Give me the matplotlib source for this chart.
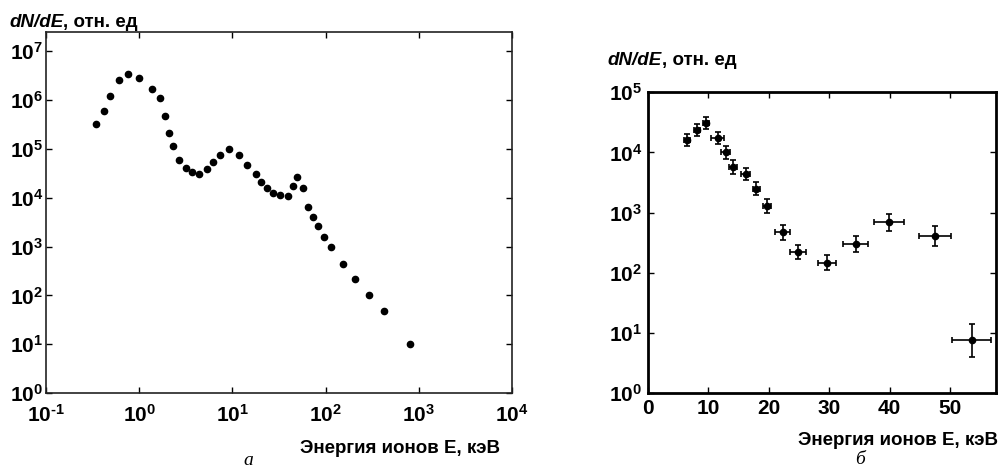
import matplotlib
matplotlib.use("Agg")
import matplotlib.pyplot as plt
import numpy as np
from matplotlib.ticker import FixedLocator, FuncFormatter, NullLocator

plt.rcParams["font.family"] = ["Liberation Sans", "DejaVu Sans"]
plt.rcParams["font.weight"] = "bold"
plt.rcParams["mathtext.fontset"] = "custom"
plt.rcParams["mathtext.rm"] = "Liberation Sans:bold"
plt.rcParams["mathtext.bf"] = "Liberation Sans:bold"
plt.rcParams["mathtext.it"] = "Liberation Sans:bold:italic"

# panel a: full spectrum, log-log
energy_a = [0.34, 0.42, 0.49, 0.61, 0.76, 1.0, 1.36, 1.67, 1.89, 2.1, 2.32,
            2.67, 3.15, 3.69, 4.39, 5.34, 6.23, 7.3, 9.3, 11.7, 14.3, 18.0,
            20.3, 23.3, 27.5, 32.4, 39.2, 44.4, 49.3, 57.7, 65.2, 72.6, 82.8,
            95.4, 113, 154, 208, 292, 427, 805]
dnde_a = [3.2e5, 6.0e5, 1.22e6, 2.6e6, 3.45e6, 2.8e6, 1.72e6, 1.12e6, 4.7e5,
          2.1e5, 1.12e5, 6.0e4, 4.0e4, 3.4e4, 3.1e4, 3.8e4, 5.4e4, 7.4e4,
          9.8e4, 7.6e4, 4.6e4, 3.1e4, 2.1e4, 1.58e4, 1.23e4, 1.14e4, 1.1e4,
          1.73e4, 2.6e4, 1.58e4, 6.6e3, 4.1e3, 2.6e3, 1.6e3, 9.7e2, 4.3e2,
          2.2e2, 1.0e2, 49, 10]

# panel б: low-energy part with error bars
energy_b = [6.5, 8.1, 9.7, 11.6, 12.9, 14.1, 16.2, 17.95, 19.7, 22.3, 24.9,
            29.6, 34.4, 39.9, 47.5, 53.6]
dnde_b = [1.58e4, 2.37e4, 3.05e4, 1.74e4, 1.0e4, 5.7e3, 4.4e3, 2.5e3, 1.28e3,
          4.7e2, 2.2e2, 1.47e2, 3.0e2, 6.9e2, 4.1e2, 7.5]
xerr_b = [0.5, 0.5, 0.5, 1.1, 0.7, 0.6, 0.7, 0.6, 0.7, 1.27, 1.3, 1.5, 2.1,
          2.5, 2.6, 3.25]
yerr_dex = [0.1, 0.1, 0.1, 0.1, 0.11, 0.11, 0.1, 0.11, 0.11, 0.12, 0.12,
            0.12, 0.13, 0.14, 0.17, 0.28]

fig = plt.figure(figsize=(10.01, 4.73), dpi=100)

ax1 = fig.add_axes([0.046, 0.169, 0.4655, 0.763])
ax1.set_xscale("log")
ax1.set_yscale("log")
ax1.plot(energy_a, dnde_a, "o", color="black", markersize=4.5)
ax1.set_xlim(1e-1, 1e4)
ax1.set_ylim(1, 10 ** 7.39)
ax1.xaxis.set_major_locator(FixedLocator([10.0 ** k for k in range(-1, 5)]))
ax1.yaxis.set_major_locator(FixedLocator([10.0 ** k for k in range(0, 8)]))
ax1.xaxis.set_minor_locator(NullLocator())
ax1.yaxis.set_minor_locator(NullLocator())
pow_fmt = FuncFormatter(
    lambda v, p: r"$\mathbf{10^{%s}}$" % str(round(np.log10(v))).replace("-", r"\text{-}"))
ax1.xaxis.set_major_formatter(pow_fmt)
ax1.yaxis.set_major_formatter(pow_fmt)
ax1.tick_params(which="both", direction="in", top=True, right=True,
                length=4, width=1, labelsize=15)
ax1.tick_params(axis="x", pad=8)
ax1.tick_params(axis="y", pad=2)
for sp in ax1.spines.values():
    sp.set_linewidth(1.2)
    sp.set_color("#222222")

ax2 = fig.add_axes([0.647, 0.169, 0.348, 0.636])
ax2.set_yscale("log")
yv = np.array(dnde_b)
d = np.array(yerr_dex)
ax2.errorbar(energy_b, dnde_b, xerr=xerr_b,
             yerr=[yv - yv * 10 ** -d, yv * 10 ** d - yv],
             fmt="o", color="black", markersize=4.5, elinewidth=1.2,
             capsize=2, capthick=1.2)
ax2.set_xlim(0, 57.6)
ax2.set_ylim(1, 1e5)
ax2.xaxis.set_major_locator(FixedLocator([0, 10, 20, 30, 40, 50]))
ax2.yaxis.set_major_locator(FixedLocator([10.0 ** k for k in range(0, 6)]))
ax2.yaxis.set_minor_locator(NullLocator())
ax2.yaxis.set_major_formatter(pow_fmt)
ax2.xaxis.set_major_formatter(FuncFormatter(lambda v, p: "%d" % v))
ax2.tick_params(which="both", direction="in", top=True, right=True,
                length=4, width=1, labelsize=15, pad=4)
for sp in ax2.spines.values():
    sp.set_linewidth(2)


def ylabel_text(x, y):
    # italic "dN/dE" followed by upright units
    t = fig.text(x, y, "dN/dE", fontsize=13.5, fontweight="bold",
                 style="italic", va="baseline")
    fig.add_artist(plt.Annotation(", отн. ед", xy=(1, 0), xycoords=t,
                                  fontsize=13.5, fontweight="bold",
                                  va="bottom"))


ylabel_text(0.009, 0.9436)
ylabel_text(0.607, 0.8626)

fig.text(0.4995, 0.043, "Энергия ионов E, кэВ", fontsize=13.5,
         fontweight="bold", ha="right", va="baseline")
fig.text(0.997, 0.059, "Энергия ионов E, кэВ", fontsize=13.5,
         fontweight="bold", ha="right", va="baseline")

fig.text(0.248, 0.016, "а", fontsize=14, family="Liberation Serif",
         style="italic", fontweight="normal", ha="center", va="baseline")
fig.text(0.859, 0.018, "б", fontsize=14, family="Liberation Serif",
         style="italic", fontweight="normal", ha="center", va="baseline")

fig.savefig("out.png", dpi=100)
